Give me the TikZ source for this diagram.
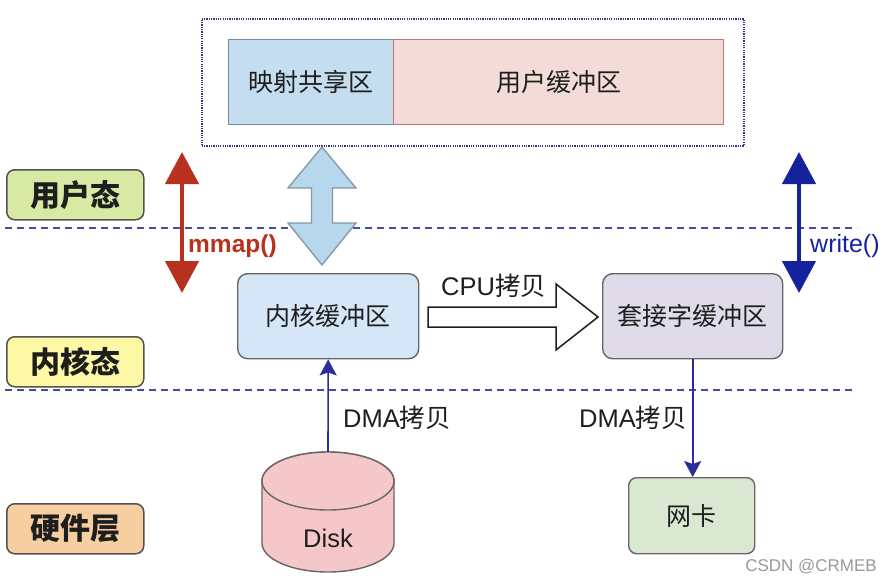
\documentclass[tikz,border=0pt]{standalone}
\usepackage{fontspec}
\setmainfont{Liberation Sans}
\newfontfamily\cjk{Noto Sans CJK SC}
\usetikzlibrary{arrows.meta}
\definecolor{mapfill}{HTML}{C4DEF0}
\definecolor{mapstroke}{HTML}{6F8AA6}
\definecolor{ufill}{HTML}{F3DCD7}
\definecolor{ustroke}{HTML}{C4736D}
\definecolor{userfill}{HTML}{D7E9A2}
\definecolor{kernfill}{HTML}{FCF8A6}
\definecolor{hwfill}{HTML}{F6CEA0}
\definecolor{kbfill}{HTML}{D5E6F6}
\definecolor{sbfill}{HTML}{DFDBE8}
\definecolor{nfill}{HTML}{DBE8D1}
\definecolor{diskfill}{HTML}{F5C7C9}
\definecolor{redarrow}{HTML}{B8311F}
\definecolor{bluearrow}{HTML}{14239B}
\definecolor{dmacol}{HTML}{2C2C9C}
\definecolor{dashcol}{HTML}{4B4B99}
\definecolor{dotcol}{HTML}{34347F}
\definecolor{boxgray}{HTML}{666666}
\definecolor{textcol}{HTML}{1E1E1E}
\definecolor{bigfill}{HTML}{B7D7EC}
\definecolor{bigstroke}{HTML}{8496A6}
\tikzset{
  cjkbox/.style={draw=boxgray, line width=1.4pt, inner sep=0pt, text=textcol,
    font=\cjk\fontsize{25}{30}\selectfont},
  layer/.style={draw=boxgray!80!black, line width=1.5pt, rounded corners=8pt,
    minimum width=137pt, minimum height=50pt, inner sep=0pt, text=textcol,
    font=\cjk\bfseries\fontsize{30}{34}\selectfont, anchor=north west},
  lbl/.style={font=\fontsize{25.5}{30}\selectfont, inner sep=0pt, text=textcol},
  sepline/.style={draw=dashcol, line width=1.8pt, dash pattern=on 7pt off 5pt},
  sysarrow/.style={line width=4.5pt, {Triangle[length=32pt,width=33pt]}-{Triangle[length=32pt,width=33pt]}},
  dma/.style={draw=dmacol, line width=1.6pt, -{Stealth[length=16pt,width=17pt,inset=3pt]}},
}
\begin{document}
\begin{tikzpicture}[x=1pt,y=-1pt]
\useasboundingbox[fill=white] (0,0) rectangle (893,584);

% user space region
\node (outer) [draw=dotcol, line width=1.6pt, dash pattern=on 1.2pt off 1.1pt,
  minimum width=542pt, minimum height=127pt, inner sep=0pt, anchor=north west] at (201,18) {};
\node[cjkbox, draw=mapstroke, fill=mapfill, minimum width=165pt, minimum height=85pt,
  anchor=north west] (map) at (228,39) {映射共享区};
\node[cjkbox, draw=ustroke, fill=ufill, minimum width=330pt, minimum height=85pt,
  anchor=north west] (ubuf) at (393,39) {用户缓冲区};

% separators
\coordinate (s1a) at (5,228);
\coordinate (s1b) at (857,228);
\coordinate (s2a) at (5,390);
\coordinate (s2b) at (855,390);
\draw[sepline] (s1a) -- (s1b);
\draw[sepline] (s2a) -- (s2b);

% layer labels
\node[layer, fill=userfill] (user) at (6,169) {用户态};
\node[layer, fill=kernfill] (kern) at (6,336) {内核态};
\node[layer, fill=hwfill] (hw) at (6,503) {硬件层};

% big double arrow
\draw[draw=bigstroke, fill=bigfill, line width=1.3pt, line join=miter]
  (322,147) -- (356,188) -- (332.5,188) -- (332.5,223) -- (356,223) -- (322,265)
  -- (288,223) -- (311.5,223) -- (311.5,188) -- (288,188) -- cycle;

% kernel boxes
\node[cjkbox, rounded corners=10pt, fill=kbfill, minimum width=181pt, minimum height=85pt,
  anchor=north west] (kbuf) at (237,273) {内核缓冲区};
\node[cjkbox, rounded corners=10pt, fill=sbfill, minimum width=180pt, minimum height=85pt,
  anchor=north west] (sbuf) at (602,273) {套接字缓冲区};

% CPU copy arrow
\draw[draw=textcol, fill=white, line width=1.5pt, line join=miter]
  (428,307) -- (556,307) -- (556,284) -- (598,317) -- (556,350) -- (556,327) -- (428,327) -- cycle;
\node[lbl, anchor=west] (cpul) at (441,286) {CPU{\cjk 拷贝}};

% mmap / write arrows
\coordinate (mT) at (182,152);
\coordinate (mB) at (182,293);
\draw[sysarrow, draw=redarrow, fill=redarrow] (mT) -- (mB);
\node[lbl, anchor=west, text=redarrow, font=\bfseries\fontsize{24.5}{28}\selectfont] (mmapl) at (188,246) {mmap()};
\coordinate (wT) at (799,152);
\coordinate (wB) at (799,293);
\draw[sysarrow, draw=bluearrow, fill=bluearrow] (wT) -- (wB);
\node[lbl, anchor=west, text=bluearrow, font=\fontsize{25}{28}\selectfont] (writel) at (810,246) {write()};

% disk
\draw[draw=boxgray, fill=diskfill, line width=1.4pt]
  (262,481) -- (262,543) arc[start angle=180, end angle=360, x radius=66pt, y radius=29pt]
  -- (394,481) arc[start angle=0, end angle=180, x radius=66pt, y radius=29pt] -- cycle;
\draw[draw=boxgray, fill=diskfill, line width=1.4pt] (328,481) ellipse[x radius=66pt, y radius=29pt];
\node (disk) [minimum width=132pt, minimum height=120pt, inner sep=0pt] at (328,512) {};
\node[lbl] (diskl) at (328,538) {Disk};

% NIC
\node[cjkbox, rounded corners=8pt, fill=nfill, minimum width=126pt, minimum height=76pt,
  anchor=north west] (nic) at (628,477) {网卡};

% DMA arrows
\draw[dma] (disk.north) -- (kbuf.south);
\node[lbl, anchor=west] (dmal) at (343,418) {DMA{\cjk 拷贝}};
\draw[dma] (sbuf.south) -- (sbuf.south |- nic.north);
\node[lbl, anchor=east] (dmar) at (687,418) {DMA{\cjk 拷贝}};

% watermark
\node[anchor=east, inner sep=0pt, text=gray!80, font=\fontsize{17}{20}\selectfont] (wm) at (877,567) {CSDN @CRMEB};
\end{tikzpicture}
\end{document}
